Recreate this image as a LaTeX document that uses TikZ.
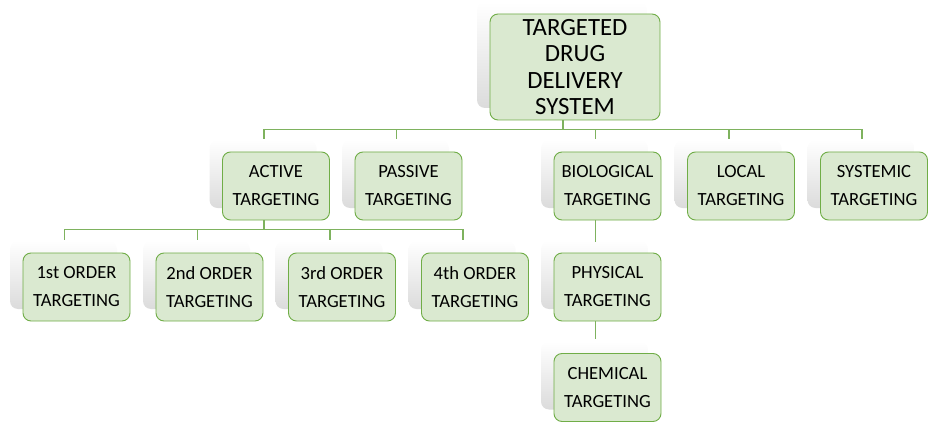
\documentclass[tikz,border=0pt]{standalone}
\usepackage{fontspec}
\setmainfont{Carlito}
\usetikzlibrary{shadows}
\definecolor{boxfill}{RGB}{218,233,208}
\definecolor{boxline}{RGB}{112,173,71}
\definecolor{linkline}{RGB}{126,178,94}
\tikzset{
  ghost/.style={general shadow={shadow xshift=-13pt,shadow yshift=12pt,top color=white,middle color=black!4,bottom color=black!14}},
  tbox/.style={draw=boxline,line width=0.9pt,fill=boxfill,rounded corners=8pt,align=center,ghost,
    minimum width=107pt,minimum height=68pt,inner sep=0pt,font=\fontsize{18.6}{28}\selectfont},
  headbox/.style={tbox,minimum width=170pt,minimum height=106pt,font=\fontsize{24.8}{26.5}\selectfont},
  conn/.style={draw=linkline,line width=1.2pt}
}
\begin{document}
\begin{tikzpicture}[x=1pt,y=1pt]
\useasboundingbox (0,0) rectangle (938,424);
%head
\node[headbox] (tdds) at (575,357) {TARGETED\\DRUG\\DELIVERY\\SYSTEM};
%first row
\node[tbox] (active) at (276,238) {ACTIVE\\TARGETING};
\node[tbox] (passive) at (408.5,238) {PASSIVE\\TARGETING};
\node[tbox] (bio) at (607.5,238) {BIOLOGICAL\\TARGETING};
\node[tbox] (local) at (741,238) {LOCAL\\TARGETING};
\node[tbox] (systemic) at (874,238) {SYSTEMIC\\TARGETING};
%second row
\node[tbox] (first) at (76.5,137) {1st ORDER\\TARGETING};
\node[tbox] (second) at (209.5,137) {2nd ORDER\\TARGETING};
\node[tbox] (third) at (342,137) {3rd ORDER\\TARGETING};
\node[tbox] (fourth) at (475,137) {4th ORDER\\TARGETING};
\node[tbox] (physical) at (607.5,137) {PHYSICAL\\TARGETING};
%third row
\node[tbox] (chemical) at (607.5,36.5) {CHEMICAL\\TARGETING};
%links
\draw[conn] ([xshift=-12pt]tdds.south)--++(0,-10);
\draw[conn] ([xshift=-12pt,yshift=13pt]active.north)|-([xshift=-12pt,yshift=22pt]systemic.north)--([xshift=-12pt,yshift=13pt]systemic.north);
\foreach \n in {passive,bio,local}{\draw[conn] ([xshift=-12pt,yshift=13pt]\n.north)--++(0,9);}
\draw[conn] ([xshift=-12pt]active.south)--++(0,-10);
\draw[conn] ([xshift=-12pt,yshift=13pt]first.north)|-([xshift=-12pt,yshift=23pt]fourth.north)--([xshift=-12pt,yshift=13pt]fourth.north);
\foreach \n in {second,third}{\draw[conn] ([xshift=-12pt,yshift=13pt]\n.north)--++(0,10);}
\draw[conn] ([xshift=-12pt]bio.south)--([xshift=-12pt,yshift=11pt]physical.north);
\draw[conn] ([xshift=-12pt]physical.south)--([xshift=-12pt,yshift=14pt]chemical.north);
\end{tikzpicture}
\end{document}
